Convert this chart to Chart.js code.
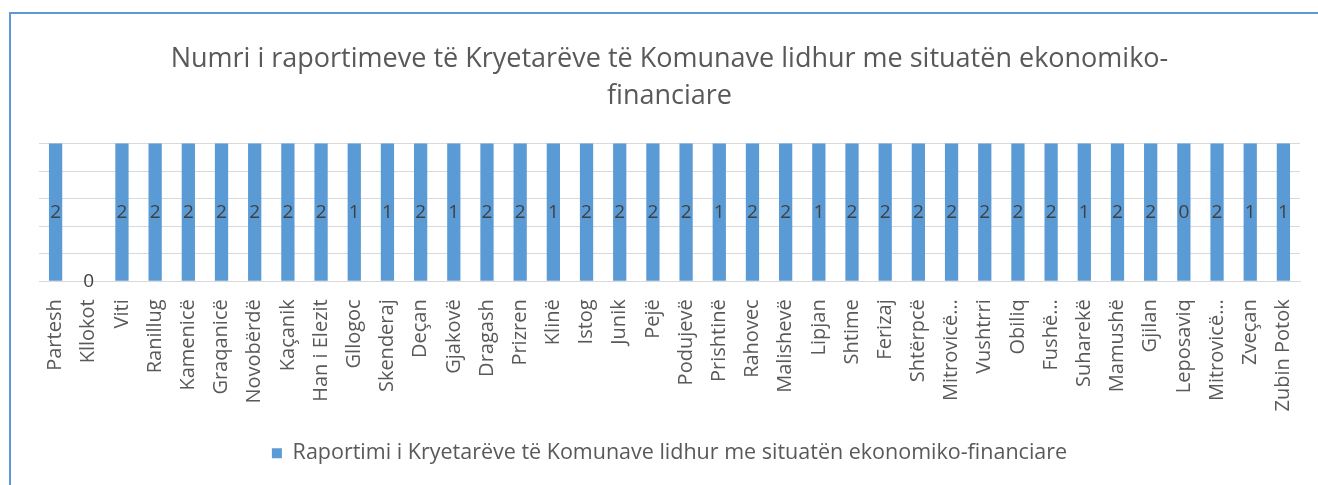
<!DOCTYPE html>
<html>
<head>
<meta charset="utf-8">
<script src="https://cdn.jsdelivr.net/npm/chart.js@4/dist/chart.umd.min.js"></script>
<style>
  html, body { margin: 0; padding: 0; background: #fff; overflow: hidden; }
  #frame { position: absolute; left: 9px; top: 12px; width: 1330px; height: 500px; border: 2px solid #5b9bd5; box-sizing: border-box; }
  #wrap { position: absolute; left: 0; top: 0; width: 1318px; height: 485px; }
</style>
</head>
<body>
<div id="frame"></div>
<div id="wrap"><canvas id="reportChart"></canvas></div>
<script>
// municipalities (x axis)
const municipalities = [
  "Partesh", "Kllokot", "Viti", "Ranillug", "Kamenicë", "Graqanicë", "Novobërdë",
  "Kaçanik", "Han i Elezit", "Gllogoc", "Skenderaj", "Deçan", "Gjakovë", "Dragash",
  "Prizren", "Klinë", "Istog", "Junik", "Pejë", "Podujevë", "Prishtinë", "Rahovec",
  "Malishevë", "Lipjan", "Shtime", "Ferizaj", "Shtërpcë", "Mitrovicë…", "Vushtrri",
  "Obiliq", "Fushë…", "Suharekë", "Mamushë", "Gjilan", "Leposaviq", "Mitrovicë…",
  "Zveçan", "Zubin Potok"
];

// number of reports (Leposaviq shows "0" but its bar is drawn full, so a small non-zero value)
const reports = [
  2, 0, 2, 2, 2, 2, 2,
  2, 2, 1, 1, 2, 1, 2,
  2, 1, 2, 2, 2, 2, 1, 2,
  2, 1, 2, 2, 2, 2, 2,
  2, 2, 1, 2, 2, 0.3, 2,
  1, 1
];

const titleLines = ["Numri i raportimeve të Kryetarëve të Komunave lidhur me situatën ekonomiko-", "financiare"];
const seriesName = "Raportimi i Kryetarëve të Komunave lidhur me situatën ekonomiko-financiare";

// value axis as in the source: very small max, so every non-zero bar hits the top
const yMax = 0.25;
const yStep = 0.05;

const FONT = "'Open Sans', 'Liberation Sans', sans-serif";

// draws the value in the middle of each bar
const barLabels = {
  id: 'barLabels',
  afterDatasetsDraw(c) {
    const ctx = c.ctx;
    const area = c.chartArea;
    const meta = c.getDatasetMeta(0);
    ctx.save();
    ctx.font = "19px " + FONT;
    ctx.fillStyle = "#404040";
    ctx.textAlign = "center";
    ctx.textBaseline = "middle";
    meta.data.forEach((bar, i) => {
      const top = Math.max(bar.y, area.top);
      const yc = (top + bar.base) / 2;
      ctx.fillText(String(Math.round(reports[i])), bar.x, yc);
    });
    ctx.restore();
  }
};

new Chart(document.getElementById('reportChart'), {
  type: 'bar',
  data: {
    labels: municipalities,
    datasets: [{
      label: seriesName,
      data: reports,
      backgroundColor: '#5b9bd5',
      borderWidth: 0,
      barPercentage: 0.4,
      categoryPercentage: 1.0
    }]
  },
  options: {
    responsive: true,
    maintainAspectRatio: false,
    animation: false,
    layout: { padding: { left: 39, right: 18, top: 13, bottom: 11 } },
    plugins: {
      title: {
        display: true,
        text: titleLines,
        color: '#595959',
        font: { family: FONT, size: 27, weight: 'normal', lineHeight: 1.4 },
        padding: { top: 27, bottom: 28 }
      },
      legend: {
        position: 'bottom',
        labels: {
          color: '#595959',
          font: { family: FONT, size: 21.5 },
          boxWidth: 10,
          boxHeight: 10,
          padding: 21
        }
      },
      tooltip: { enabled: false }
    },
    scales: {
      x: {
        grid: { display: false },
        border: { color: '#d9d9d9', width: 1 },
        ticks: {
          color: '#595959',
          font: { family: FONT, size: 20 },
          minRotation: 90,
          maxRotation: 90,
          autoSkip: false,
          padding: 10
        }
      },
      y: {
        min: 0,
        max: yMax,
        grid: { color: '#d9d9d9', lineWidth: 1, drawTicks: false },
        border: { display: false },
        ticks: { display: false, stepSize: yStep }
      }
    }
  },
  plugins: [barLabels]
});
</script>
</body>
</html>
